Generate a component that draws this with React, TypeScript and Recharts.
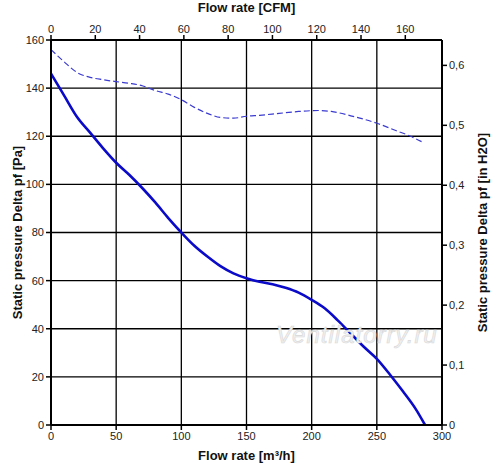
import { LineChart, Line, XAxis, YAxis, CartesianGrid } from "recharts";

// 1 CFM = 1.699 m³/h, 1 in H2O = 249.089 Pa
const M3H_PER_CFM = 1.699;
const PA_PER_INH2O = 249.089;

const flowTicks = [0, 50, 100, 150, 200, 250, 300];
const cfmTicks = [0, 20, 40, 60, 80, 100, 120, 140, 160];
const paTicks = [0, 20, 40, 60, 80, 100, 120, 140, 160];
const inH2oTicks = [0, 0.1, 0.2, 0.3, 0.4, 0.5, 0.6];

// main curve: flow [m³/h] -> static pressure [Pa]
const mainFlow = [0, 10, 20, 30, 40, 50, 60, 70, 80, 90, 100, 110, 120, 130, 140, 150, 160, 170, 180, 190, 200, 210, 220, 230, 240, 250, 260, 270, 280, 287];
const mainPa = [146, 137, 128, 121.5, 115, 109, 104, 98.5, 92.5, 86, 80, 74.5, 70, 66, 63, 61, 59.5, 58.5, 57, 55, 52, 48.5, 43.5, 38, 32.5, 27.5, 21, 14, 6.5, 0];

// dashed curve
const dashFlow = [0, 10, 20, 30, 40, 50, 60, 70, 80, 90, 100, 110, 120, 130, 140, 150, 160, 175, 190, 205, 215, 230, 250, 265, 275, 286];
const dashPa = [156, 151, 146.5, 144.5, 143.5, 142.7, 142, 141, 139, 137.5, 135.2, 132, 129.5, 127.8, 127.5, 128.3, 128.7, 129.5, 130.3, 130.7, 130.3, 128.5, 125.4, 122.3, 120.2, 117.3];

const mainData = mainFlow.map((q, i) => ({ q, pa: mainPa[i] }));
const dashData = dashFlow.map((q, i) => ({ q, pa: dashPa[i] }));

const font = "'Liberation Sans', Arial, sans-serif";
const tickStyle = { fontSize: 11, fill: "#222", fontFamily: font };
const axisLine = { stroke: "#000", strokeWidth: 2 };
const tickLine = { stroke: "#000", strokeWidth: 1.5 };
const titleStyle = { fontSize: 13, fontWeight: "bold", fill: "#111", fontFamily: font };

const fmtInH2o = (v: number) => {
  const x = v / PA_PER_INH2O;
  return x < 0.001 ? "0" : x.toFixed(1).replace(".", ",");
};

export default function App() {
  return (
    <div style={{ position: "absolute", left: 0, top: 0, width: 500, height: 473, background: "#fff" }}>
      <LineChart width={500} height={473} margin={{ top: 0, right: 0, bottom: 0, left: 0 }}>
        <CartesianGrid xAxisId="q" yAxisId="pa" stroke="#000" strokeWidth={1.3} />
        <XAxis
          xAxisId="q"
          type="number"
          dataKey="q"
          domain={[0, 300]}
          ticks={flowTicks}
          orientation="bottom"
          height={48}
          axisLine={axisLine}
          tickLine={tickLine}
          tickSize={5}
          tick={tickStyle}
          label={{ value: "Flow rate [m³/h]", position: "insideBottom", offset: 13, style: titleStyle }}
        />
        <XAxis
          xAxisId="cfm"
          type="number"
          dataKey="q"
          domain={[0, 300]}
          ticks={cfmTicks.map((c) => c * M3H_PER_CFM)}
          tickFormatter={(v: number) => String(Math.round(v / M3H_PER_CFM))}
          orientation="top"
          height={40}
          axisLine={axisLine}
          tickLine={tickLine}
          tickSize={5}
          tick={tickStyle}
          label={{ value: "Flow rate [CFM]", position: "insideTop", offset: 3, style: titleStyle }}
        />
        <YAxis
          yAxisId="pa"
          type="number"
          domain={[0, 160]}
          ticks={paTicks}
          orientation="left"
          width={51}
          axisLine={axisLine}
          tickLine={tickLine}
          tickSize={5}
          tick={tickStyle}
          label={{ value: "Static pressure Delta pf [Pa]", angle: -90, position: "insideLeft", offset: 17, style: { ...titleStyle, textAnchor: "middle" } }}
        />
        <YAxis
          yAxisId="inh2o"
          type="number"
          domain={[0, 160]}
          ticks={inH2oTicks.map((t) => t * PA_PER_INH2O)}
          tickFormatter={fmtInH2o}
          orientation="right"
          width={58}
          axisLine={axisLine}
          tickLine={tickLine}
          tickSize={5}
          tick={tickStyle}
          label={{ value: "Static pressure Delta pf [in H2O]", angle: -90, position: "insideRight", offset: 18, style: { ...titleStyle, textAnchor: "middle" } }}
        />
        <Line
          xAxisId="cfm"
          yAxisId="inh2o"
          data={dashData}
          dataKey="pa"
          type="monotone"
          stroke="#3a3ad0"
          strokeWidth={1.2}
          strokeDasharray="6 3"
          dot={false}
          isAnimationActive={false}
        />
        <Line
          xAxisId="q"
          yAxisId="pa"
          data={mainData}
          dataKey="pa"
          type="monotone"
          stroke="#0a0ac8"
          strokeWidth={2.6}
          dot={false}
          isAnimationActive={false}
        />
      </LineChart>
      <div
        style={{
          position: "absolute",
          left: 276,
          top: 321,
          fontFamily: font,
          fontStyle: "italic",
          fontSize: 24,
          color: "#f0f0f0",
          WebkitTextStroke: "0.6px #d8d8d8",
          letterSpacing: 1,
          pointerEvents: "none",
        }}
      >
        Ventilatorry.ru
      </div>
    </div>
  );
}
